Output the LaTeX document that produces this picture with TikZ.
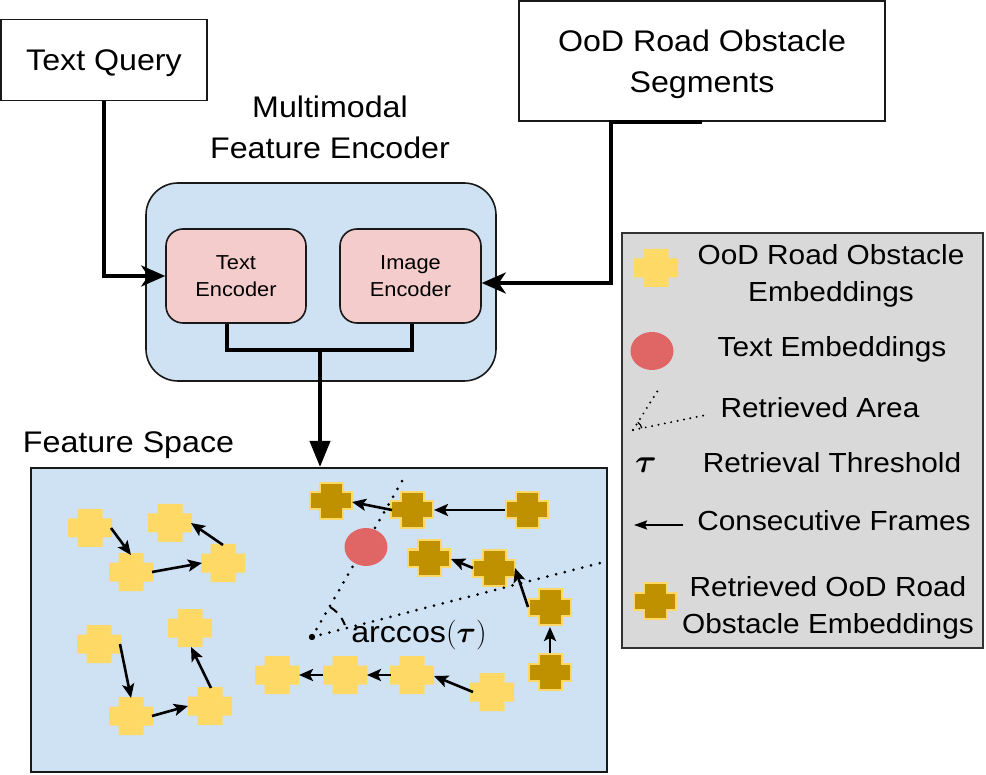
\documentclass[tikz,border=0pt]{standalone}
\usepackage{fix-cm}
\usepackage{amsmath}
\usepackage{fontspec}
\setmainfont[FakeStretch=1.08]{Liberation Sans}
\usetikzlibrary{arrows.meta,calc,shapes.geometric}
\definecolor{featblue}{HTML}{CFE2F3}
\definecolor{encpink}{HTML}{F4CCCC}
\definecolor{embyellow}{HTML}{FFD966}
\definecolor{retgold}{HTML}{BF9000}
\definecolor{textred}{HTML}{E06666}
\definecolor{leggray}{HTML}{D9D9D9}
\newcommand\fsbig{\fontsize{29.8}{41}\selectfont}
\newcommand\fsleg{\fontsize{27.6}{36.5}\selectfont}
\newcommand\fsenc{\fontsize{20.2}{27}\selectfont}
\begin{document}
\begin{tikzpicture}[x=1pt,y=-1pt,
  crossA/.style={insert path={++(-12.5,-19) -- ++(25,0) -- ++(0,9.5) -- ++(9.5,0) -- ++(0,19) -- ++(-9.5,0) -- ++(0,9.5) -- ++(-25,0) -- ++(0,-9.5) -- ++(-9.5,0) -- ++(0,-19) -- ++(9.5,0) -- cycle}},
  crossB/.style={insert path={++(-11.5,-18) -- ++(23,0) -- ++(0,9.5) -- ++(9.5,0) -- ++(0,17) -- ++(-9.5,0) -- ++(0,9.5) -- ++(-23,0) -- ++(0,-9.5) -- ++(-9.5,0) -- ++(0,-17) -- ++(9.5,0) -- cycle}},
  yemb/.style={minimum width=50pt, minimum height=44pt, inner sep=0pt,
    path picture={\fill[embyellow] (path picture bounding box.center) [crossA];}},
  remb/.style={minimum width=50pt, minimum height=44pt, inner sep=0pt,
    path picture={\filldraw[fill=retgold, draw=embyellow, line width=2pt, line join=miter] (path picture bounding box.center) [crossB];}},
  tembstyle/.style={ellipse, fill=textred, inner sep=0pt, minimum width=43pt, minimum height=38pt},
  topbox/.style={draw=black!90, line width=1.6pt, fill=white, inner sep=0pt, font=\fsbig, align=center, text depth=0pt},
  encbox/.style={draw=black!90, line width=1.6pt, fill=encpink, rounded corners=17pt, inner sep=0pt,
    minimum height=94pt, align=center, font=\fsenc, text depth=0pt},
  conn/.style={line width=4pt, -{Stealth[length=24pt, width=21pt, inset=7pt]}},
  farrow/.style={line width=2.6pt, -{Stealth[length=14pt, width=12pt, inset=3pt]}},
  dotline/.style={line width=3pt, line cap=round, dash pattern=on 0pt off 9pt},
  legtext/.style={font=\fsleg, anchor=base, inner sep=0pt},
]
\useasboundingbox (0,0) rectangle (986,775);

% ---------- top boxes ----------
\node[topbox, minimum width=206pt, minimum height=81pt] (tq) at (104,60) {Text Query};
\node[topbox, minimum width=366pt, minimum height=120pt] (ob) at (702,61) {OoD Road Obstacle\\Segments};

% ---------- encoder ----------
\node[font=\fsbig, align=center, inner sep=0pt, text depth=0pt] (enclabel) at (330,127) {Multimodal\\Feature Encoder};
\node[draw=black!90, line width=1.6pt, fill=featblue, rounded corners=32pt, minimum width=350pt, minimum height=198pt] (enc) at (321,282) {};
\node[encbox, minimum width=140pt] (te) at (236,276) {Text\\Encoder};
\node[encbox, minimum width=141pt] (ie) at (410.5,276) {Image\\Encoder};

\draw[conn] (tq.south) |- (te.west);
\draw[conn] (ob.south) -- ++(-91,0) |- ([shift={(0,7)}]ie.east);

\coordinate (jn) at (320,350);
\draw[line width=4pt] ([shift={(-9,0)}]te.south) |- (jn) -| ([shift={(1.5,0)}]ie.south);

% ---------- feature space ----------
\node[font=\fsbig, anchor=base, inner sep=0pt] (fslabel) at (128.5,453) {Feature Space};
\node[draw=black!90, line width=2pt, fill=featblue, minimum width=576pt, minimum height=304pt] (fs) at (319,620) {};
\draw[line width=4pt, -{Triangle[length=26pt, width=20pt]}] (jn) -- (jn |- fs.north);

% yellow embeddings
\node[yemb] (ya) at (90,528) {};
\node[yemb] (yb) at (170,523) {};
\node[yemb] (yc) at (131,572) {};
\node[yemb] (yd) at (223,563) {};
\node[yemb] (ye) at (99,644) {};
\node[yemb] (yf) at (190,628) {};
\node[yemb] (yg) at (131,716) {};
\node[yemb] (yh) at (210,706) {};
\node[yemb] (yi) at (277,675) {};
\node[yemb] (yj) at (345,675) {};
\node[yemb] (yk) at (412,675) {};
\node[yemb] (yl) at (492,692) {};
% retrieved embeddings
\node[remb] (da) at (331,501) {};
\node[remb] (db) at (412,510) {};
\node[remb] (dc) at (527,510) {};
\node[remb] (dd) at (429,558) {};
\node[remb] (de) at (494,568) {};
\node[remb] (df) at (550,607) {};
\node[remb] (dg) at (550,672) {};

% retrieved area
\coordinate (o) at (312,637);
\coordinate (ra) at (405,476);
\coordinate (rb) at (600,563);
\draw[dotline] (o) -- (ra);
\draw[dotline] (o) -- (rb);
\node[tembstyle] (temb) at (366,547) {};
\draw[line width=2pt, dash pattern=on 9pt off 7pt] ([shift={(-59:35)}]o) arc[start angle=-59, end angle=-20, radius=35];
\fill (o) circle[radius=3.2];
\node[font=\fsbig, anchor=base, inner sep=0pt] (arc) at (419,642) {arccos$(\boldsymbol{\tau})$};

% consecutive frames
\draw[farrow] ([shift={(21,0)}]ya.center) -- ([shift={(0,-17)}]yc.center);
\draw[farrow] ([shift={(21,0)}]yc.center) -- ([shift={(-21,0)}]yd.center);
\draw[farrow] ([shift={(0,-18)}]yd.center) -- ([shift={(21,0)}]yb.center);
\draw[farrow] ([shift={(21,0)}]ye.center) -- ([shift={(0,-18)}]yg.center);
\draw[farrow] ([shift={(21,0)}]yg.center) -- ([shift={(-22,0)}]yh.center);
\draw[farrow] ([shift={(1,-18)}]yh.center) -- ([shift={(1,19)}]yf.center);
\draw[farrow] ([shift={(-19,0)}]yl.center) -- ([shift={(22,1)}]yk.center);
\draw[farrow] ([shift={(-21,0)}]yk.center) -- ([shift={(22,0)}]yj.center);
\draw[farrow] ([shift={(-22,0)}]yj.center) -- ([shift={(22,0)}]yi.center);
\draw[farrow] ([shift={(-20,0)}]db.center) -- ([shift={(21,1)}]da.center);
\draw[farrow] ([shift={(-22,0)}]dc.center) -- ([shift={(22,0)}]db.center);
\draw[farrow] ([shift={(-21,0)}]de.center) -- ([shift={(22,1)}]dd.center);
\draw[farrow] ([shift={(-22,0)}]df.center) -- ([shift={(21,0)}]de.center);
\draw[farrow] ([shift={(0,-19)}]dg.center) -- ([shift={(0,20)}]df.center);

% ---------- legend ----------
\node[draw=black!80, line width=2pt, fill=leggray, minimum width=361pt, minimum height=415pt] (leg) at (802.5,440.5) {};
\node[yemb] (lya) at (656,268) {};
\node[font=\fsleg, align=center, inner sep=0pt, text depth=0pt] (l1) at (831,273) {OoD Road Obstacle\\Embeddings};
\node[tembstyle] (lte) at (652,351) {};
\node[legtext] (l2) at (832,357) {Text Embeddings};
\coordinate (lo) at (633,430);
\coordinate (lp) at (660,387);
\coordinate (lq) at (706,415);
\draw[line width=2.2pt, line cap=round, dash pattern=on 0pt off 6.5pt] (lo) -- (lp);
\draw[line width=2.2pt, line cap=round, dash pattern=on 0pt off 6.5pt] (lo) -- (lq);
\draw[line width=1.2pt] ([shift={(-58:9)}]lo) arc[start angle=-58, end angle=-12, radius=9];
\node[legtext] (l3) at (820,418) {Retrieved Area};
\node[font=\fontsize{33}{36}\selectfont, anchor=base, inner sep=0pt] (ltau) at (646,473) {$\boldsymbol{\tau}$};
\node[legtext] (l4) at (832,473) {Retrieval Threshold};
\coordinate (la1) at (683,525);
\coordinate (la2) at (634,525);
\draw[line width=2pt, -{Stealth[length=13pt, width=9pt, inset=2pt]}] (la1) -- (la2);
\node[legtext] (l5) at (834,531) {Consecutive Frames};
\node[remb] (lre) at (655,601) {};
\node[font=\fsleg, align=center, inner sep=0pt, text depth=0pt] (l6) at (828,605) {Retrieved OoD Road\\Obstacle Embeddings};
\end{tikzpicture}
\end{document}
